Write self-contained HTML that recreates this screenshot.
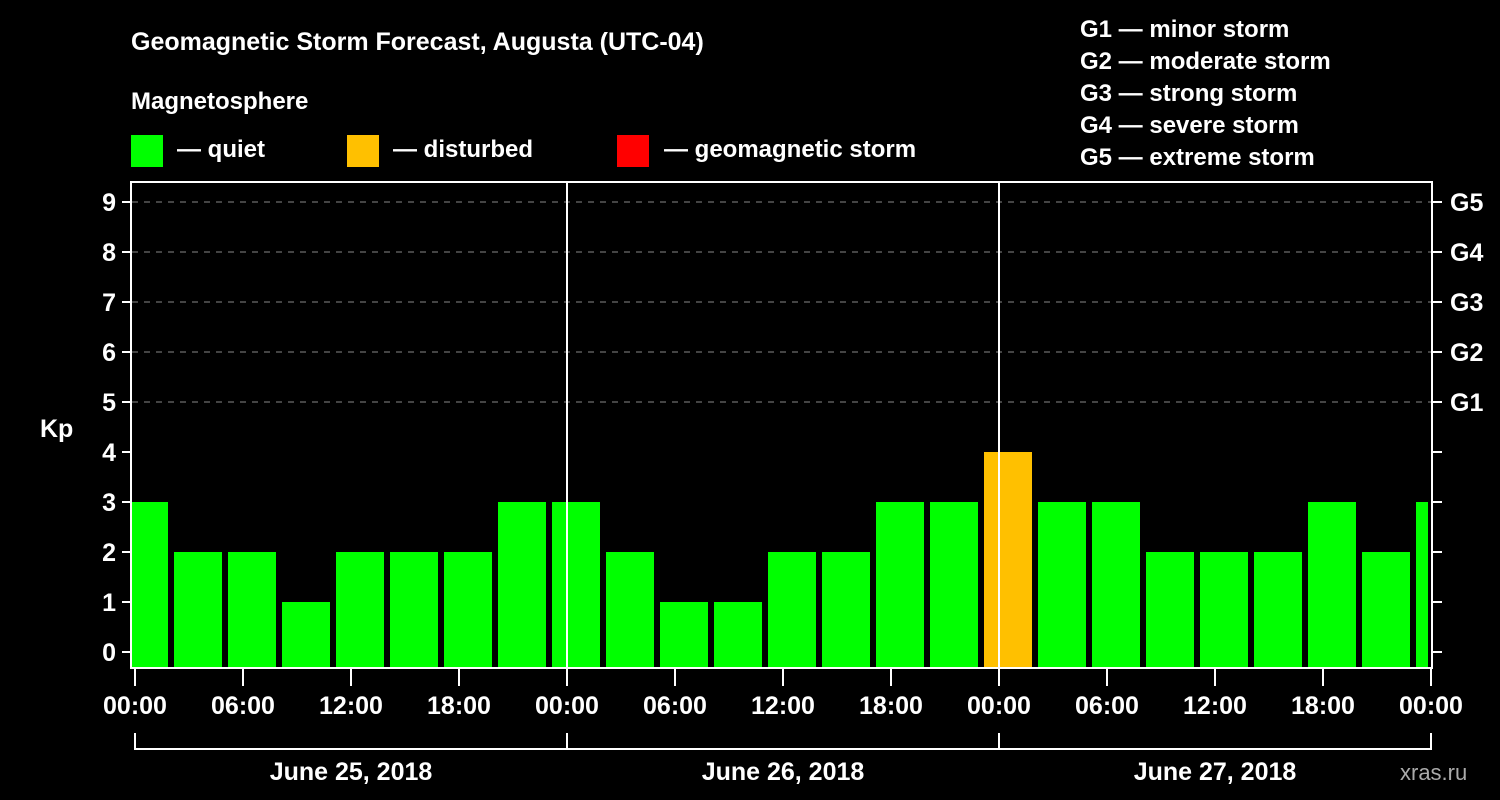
<!DOCTYPE html>
<html><head><meta charset="utf-8"><style>
html,body{margin:0;background:#000;width:1500px;height:800px;overflow:hidden}
svg text{font-family:"Liberation Sans",sans-serif;font-weight:bold;fill:#fff}
</style></head><body>
<svg id="c" width="1500" height="800">
<text x="131" y="50" font-size="25">Geomagnetic Storm Forecast, Augusta (UTC-04)</text>
<text x="131" y="109" font-size="24">Magnetosphere</text>
<g><rect x="131" y="135" width="32" height="32" fill="#00ff00"/><text x="177" y="157" font-size="24">— quiet</text></g>
<g><rect x="347" y="135" width="32" height="32" fill="#ffc000"/><text x="393" y="157" font-size="24">— disturbed</text></g>
<g><rect x="617" y="135" width="32" height="32" fill="#ff0000"/><text x="664" y="157" font-size="24">— geomagnetic storm</text></g>
<g font-size="24">
<text x="1080" y="37">G1 — minor storm</text><text x="1080" y="69">G2 — moderate storm</text><text x="1080" y="101">G3 — strong storm</text><text x="1080" y="133">G4 — severe storm</text><text x="1080" y="165">G5 — extreme storm</text></g>
<text x="40" y="437" font-size="25">Kp</text>
<text x="1400" y="780" font-size="22" style="fill:#aaa;font-weight:normal">xras.ru</text>
<defs><clipPath id="cl"><rect x="132" y="183" width="1296" height="485"/></clipPath></defs>
<g id="grid"></g><g id="bars" clip-path="url(#cl)"></g><g id="axes"></g>
</svg>
<script>
const kpValues=[3,2,2,1,2,2,2,3, 3,2,1,1,2,2,3,3, 4,3,3,2,2,2,3,2, 3];
const yTicks=[0,1,2,3,4,5,6,7,8,9];
const gLabels=["G1","G2","G3","G4","G5"];
const xTickLabels=["00:00","06:00","12:00","18:00","00:00","06:00","12:00","18:00","00:00","06:00","12:00","18:00","00:00"];
const dayLabels=["June 25, 2018","June 26, 2018","June 27, 2018"];
const NS="http://www.w3.org/2000/svg";
const X0=135,PXH=18;
const xs=h=>X0+h*PXH;
const ys=v=>652-v*50;
function mk(parent,tag,attrs,txt){const e=document.createElementNS(NS,tag);for(const k in attrs)e.setAttribute(k,attrs[k]);if(txt!==undefined)e.textContent=txt;document.getElementById(parent).appendChild(e);return e;}
yTicks.forEach(v=>{
 if(v>=5){const g=mk('grid','line',{x1:132,x2:1432,y1:ys(v),y2:ys(v),stroke:'#888','stroke-dasharray':'6,6','stroke-width':1});
 
 }
 const t=mk('axes','line',{x1:122,x2:132,y1:ys(v),y2:ys(v),stroke:'#fff','stroke-width':2});
 
 
 const t2=mk('axes','line',{x1:1432,x2:1442,y1:ys(v),y2:ys(v),stroke:'#fff','stroke-width':2});
 
 
 const l=mk('axes','text',{x:116,y:ys(v)+9,'font-size':25,'text-anchor':'end'},String(v));
 
 
});
gLabels.forEach((g,i)=>{const l=mk('axes','text',{x:1450,y:ys(i+5)+9,'font-size':25},g);
 
 });
kpValues.forEach((v,i)=>{const c=xs(0.5+3*i);
 const b=mk('bars','rect',{x:c-24,y:ys(v),width:48,height:668-ys(v),fill:v>=5?'#ff0000':(v>=4?'#ffc000':'#00ff00')});
 
 });
[1,2].forEach(d=>{const l=mk('axes','line',{x1:xs(24*d),x2:xs(24*d),y1:182,y2:668,stroke:'#fff','stroke-width':2});
 
 });
const f=mk('axes','rect',{x:131,y:182,width:1301,height:486,fill:'none',stroke:'#fff','stroke-width':2});


xTickLabels.forEach((s,i)=>{const x=xs(6*i);
 const t=mk('axes','line',{x1:x,x2:x,y1:668,y2:686,stroke:'#fff','stroke-width':2});
 
 
 const l=mk('axes','text',{x:x,y:714,'font-size':25,'text-anchor':'middle'},s);
 
 });
const br=mk('axes','path',{d:`M${xs(0)},733V749H${xs(72)}V733M${xs(24)},733V749M${xs(48)},733V749`,stroke:'#fff','stroke-width':2,fill:'none'});


dayLabels.forEach((s,i)=>{const l=mk('axes','text',{x:xs(24*i+12),y:780,'font-size':25,'text-anchor':'middle'},s);
 
 });
</script>
</body></html>
